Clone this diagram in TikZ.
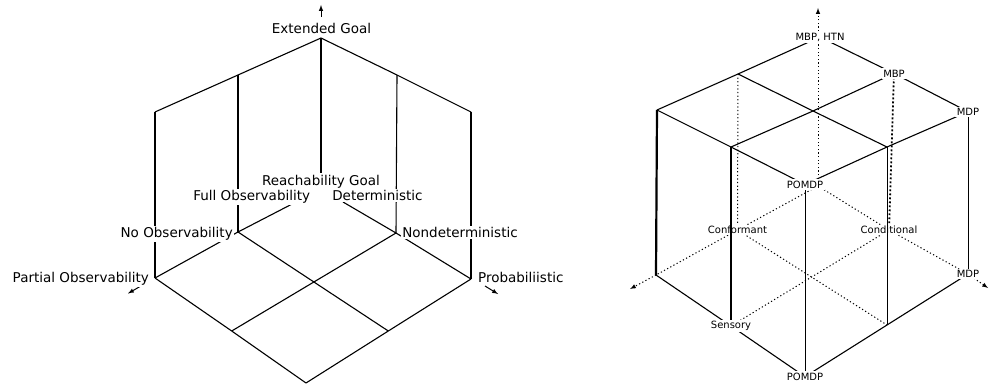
\documentclass[tikz,border=0pt]{standalone}
\usepackage{fontspec}
\setmainfont{DejaVu Sans}
\usepackage{tikz}
\pgfdeclarelayer{edgelayer}
\pgfdeclarelayer{nodelayer}
\pgfsetlayers{edgelayer,nodelayer,main}
\tikzstyle{none}=[inner sep=0pt]
\tikzstyle{axis}=[-latex,draw=black,line width=1pt]
\tikzstyle{cubeline}=[draw=black,line width=1.1pt]
\tikzstyle{thinline}=[draw=black,line width=0.8pt]
\tikzstyle{thickline}=[draw=black,line width=2.2pt]
\tikzstyle{dotline}=[draw=black,line width=1pt,dash pattern=on 1.2pt off 2.4pt]
\tikzstyle{thickdot}=[draw=black,line width=1.8pt,dash pattern=on 1.8pt off 2.2pt]
\tikzstyle{biglabel}=[fill=white,inner sep=1.5pt,anchor=base,font=\fontsize{13.5}{16}\selectfont]
\tikzstyle{smalllabel}=[fill=white,inner sep=1.5pt,font=\fontsize{10}{12}\selectfont]

\begin{document}
\begin{tikzpicture}[x=1pt,y=-1pt]
	\useasboundingbox (0,0) rectangle (990,385);
	\begin{pgfonlayer}{nodelayer}
		% left cube
		\node [style=none] (0) at (321, 38) {};
		\node [style=none] (1) at (238, 75) {};
		\node [style=none] (2) at (155, 112) {};
		\node [style=none] (3) at (397, 75) {};
		\node [style=none] (4) at (471, 112) {};
		\node [style=none] (5) at (321, 186) {};
		\node [style=none] (6) at (238, 232) {};
		\node [style=none] (7) at (396, 233) {};
		\node [style=none] (8) at (155, 278) {};
		\node [style=none] (9) at (471, 279) {};
		\node [style=none] (10) at (231.7, 331) {};
		\node [style=none] (11) at (388.3, 331) {};
		\node [style=none] (12) at (306, 383) {};
		\node [style=none] (13) at (321, 17) {};
		\node [style=none] (14) at (321, 5) {};
		\node [style=none] (15) at (140, 286.5) {};
		\node [style=none] (16) at (128, 293.5) {};
		\node [style=none] (17) at (485, 286) {};
		\node [style=none] (18) at (498, 294) {};
		\node [style=none] (47) at (296, 202) {};
		\node [style=none] (48) at (343, 202) {};
		\node [style=biglabel] (19) at (321.5, 34) {Extended Goal};
		\node [style=biglabel] (20) at (321, 185) {Reachability Goal};
		\node [style=biglabel] (21) at (251.7, 200.7) {Full Observability};
		\node [style=biglabel] (22) at (377.5, 200.7) {Deterministic};
		\node [style=biglabel] (23) at (176.7, 237.3) {No Observability};
		\node [style=biglabel] (24) at (460, 237.3) {Nondeterministic};
		\node [style=biglabel] (25) at (80.8, 282.7) {Partial Observability};
		\node [style=biglabel] (26) at (520.8, 282.7) {Probabiliistic};
		% right cube
		\node [style=none] (27) at (657, 110) {};
		\node [style=none] (28) at (738, 74) {};
		\node [style=none] (29) at (813, 111) {};
		\node [style=none] (30) at (731, 147) {};
		\node [style=none] (31) at (887, 147) {};
		\node [style=none] (32) at (656, 275) {};
		\node [style=none] (33) at (887, 325) {};
		\node [style=none] (34) at (818, 186) {};
		\node [style=none] (35) at (818, 8) {};
		\node [style=none] (36) at (630, 289) {};
		\node [style=none] (37) at (988, 288) {};
		\node [style=smalllabel] (38) at (820, 37) {MBP, HTN};
		\node [style=smalllabel] (39) at (894, 73.5) {MBP};
		\node [style=smalllabel] (40) at (968, 111.7) {MDP};
		\node [style=smalllabel] (41) at (805, 184.5) {POMDP};
		\node [style=smalllabel] (42) at (737.5, 230) {Conformant};
		\node [style=smalllabel] (43) at (889, 230) {Conditional};
		\node [style=smalllabel] (44) at (968, 274) {MDP};
		\node [style=smalllabel] (45) at (731, 326) {Sensory};
		\node [style=smalllabel] (46) at (805, 376.7) {POMDP};
	\end{pgfonlayer}
	\begin{pgfonlayer}{edgelayer}
		% left cube
		\draw [style=cubeline] (2.center) to (1.center);
		\draw [style=cubeline] (1.center) to (0.center);
		\draw [style=cubeline] (0.center) to (3.center);
		\draw [style=cubeline] (3.center) to (4.center);
		\draw [style=cubeline] (2.center) to (8.center);
		\draw [style=cubeline] (1.center) to (6.center);
		\draw [style=cubeline] (0.center) to (5.center);
		\draw [style=cubeline] (3.center) to (7.center);
		\draw [style=cubeline] (4.center) to (9.center);
		\draw [style=cubeline] (8.center) to (6.center);
		\draw [style=cubeline] (6.center) to (47.center);
		\draw [style=cubeline] (9.center) to (7.center);
		\draw [style=cubeline] (7.center) to (48.center);
		\draw [style=cubeline] (8.center) to (10.center);
		\draw [style=cubeline] (10.center) to (12.center);
		\draw [style=cubeline] (9.center) to (11.center);
		\draw [style=cubeline] (11.center) to (12.center);
		\draw [style=cubeline] (6.center) to (11.center);
		\draw [style=cubeline] (7.center) to (10.center);
		\draw [style=axis] (13.center) to (14.center);
		\draw [style=axis] (15.center) to (16.center);
		\draw [style=axis] (17.center) to (18.center);
		% right cube
		\draw [style=cubeline] (27.center) to (28.center);
		\draw [style=cubeline] (28.center) to (38.center);
		\draw [style=cubeline] (38.center) to (39.center);
		\draw [style=cubeline] (39.center) to (40.center);
		\draw [style=cubeline] (27.center) to (30.center);
		\draw [style=cubeline] (30.center) to (41.center);
		\draw [style=cubeline] (41.center) to (31.center);
		\draw [style=cubeline] (31.center) to (40.center);
		\draw [style=cubeline] (28.center) to (29.center);
		\draw [style=cubeline] (29.center) to (31.center);
		\draw [style=cubeline] (39.center) to (29.center);
		\draw [style=cubeline] (29.center) to (30.center);
		\draw [style=thickline] (27.center) to (32.center);
		\draw [style=thinline] (41.center) to (46.center);
		\draw [style=thinline] (40.center) to (44.center);
		\draw [style=cubeline] (32.center) to (45.center);
		\draw [style=cubeline] (45.center) to (46.center);
		\draw [style=cubeline] (46.center) to (33.center);
		\draw [style=cubeline] (33.center) to (44.center);
		\draw [style=dotline] (34.center) to (42.center);
		\draw [style=dotline] (42.center) to (32.center);
		\draw [style=dotline, -latex] (32.center) to (36.center);
		\draw [style=dotline] (34.center) to (43.center);
		\draw [style=dotline] (43.center) to (44.center);
		\draw [style=dotline, -latex] (44.center) to (37.center);
		\draw [style=dotline, -latex] (34.center) to (35.center);
		\draw [style=dotline] (28.center) to (42.center);
		\draw [style=thickdot] (39.center) to (43.center);
		\draw [style=dotline] (42.center) to (33.center);
		\draw [style=dotline] (43.center) to (45.center);
	\end{pgfonlayer}
	\draw [style=thickline] (30.center) to (45.north);
	\draw [style=thinline] (31.center) to (33.center);
\end{tikzpicture}
\end{document}
